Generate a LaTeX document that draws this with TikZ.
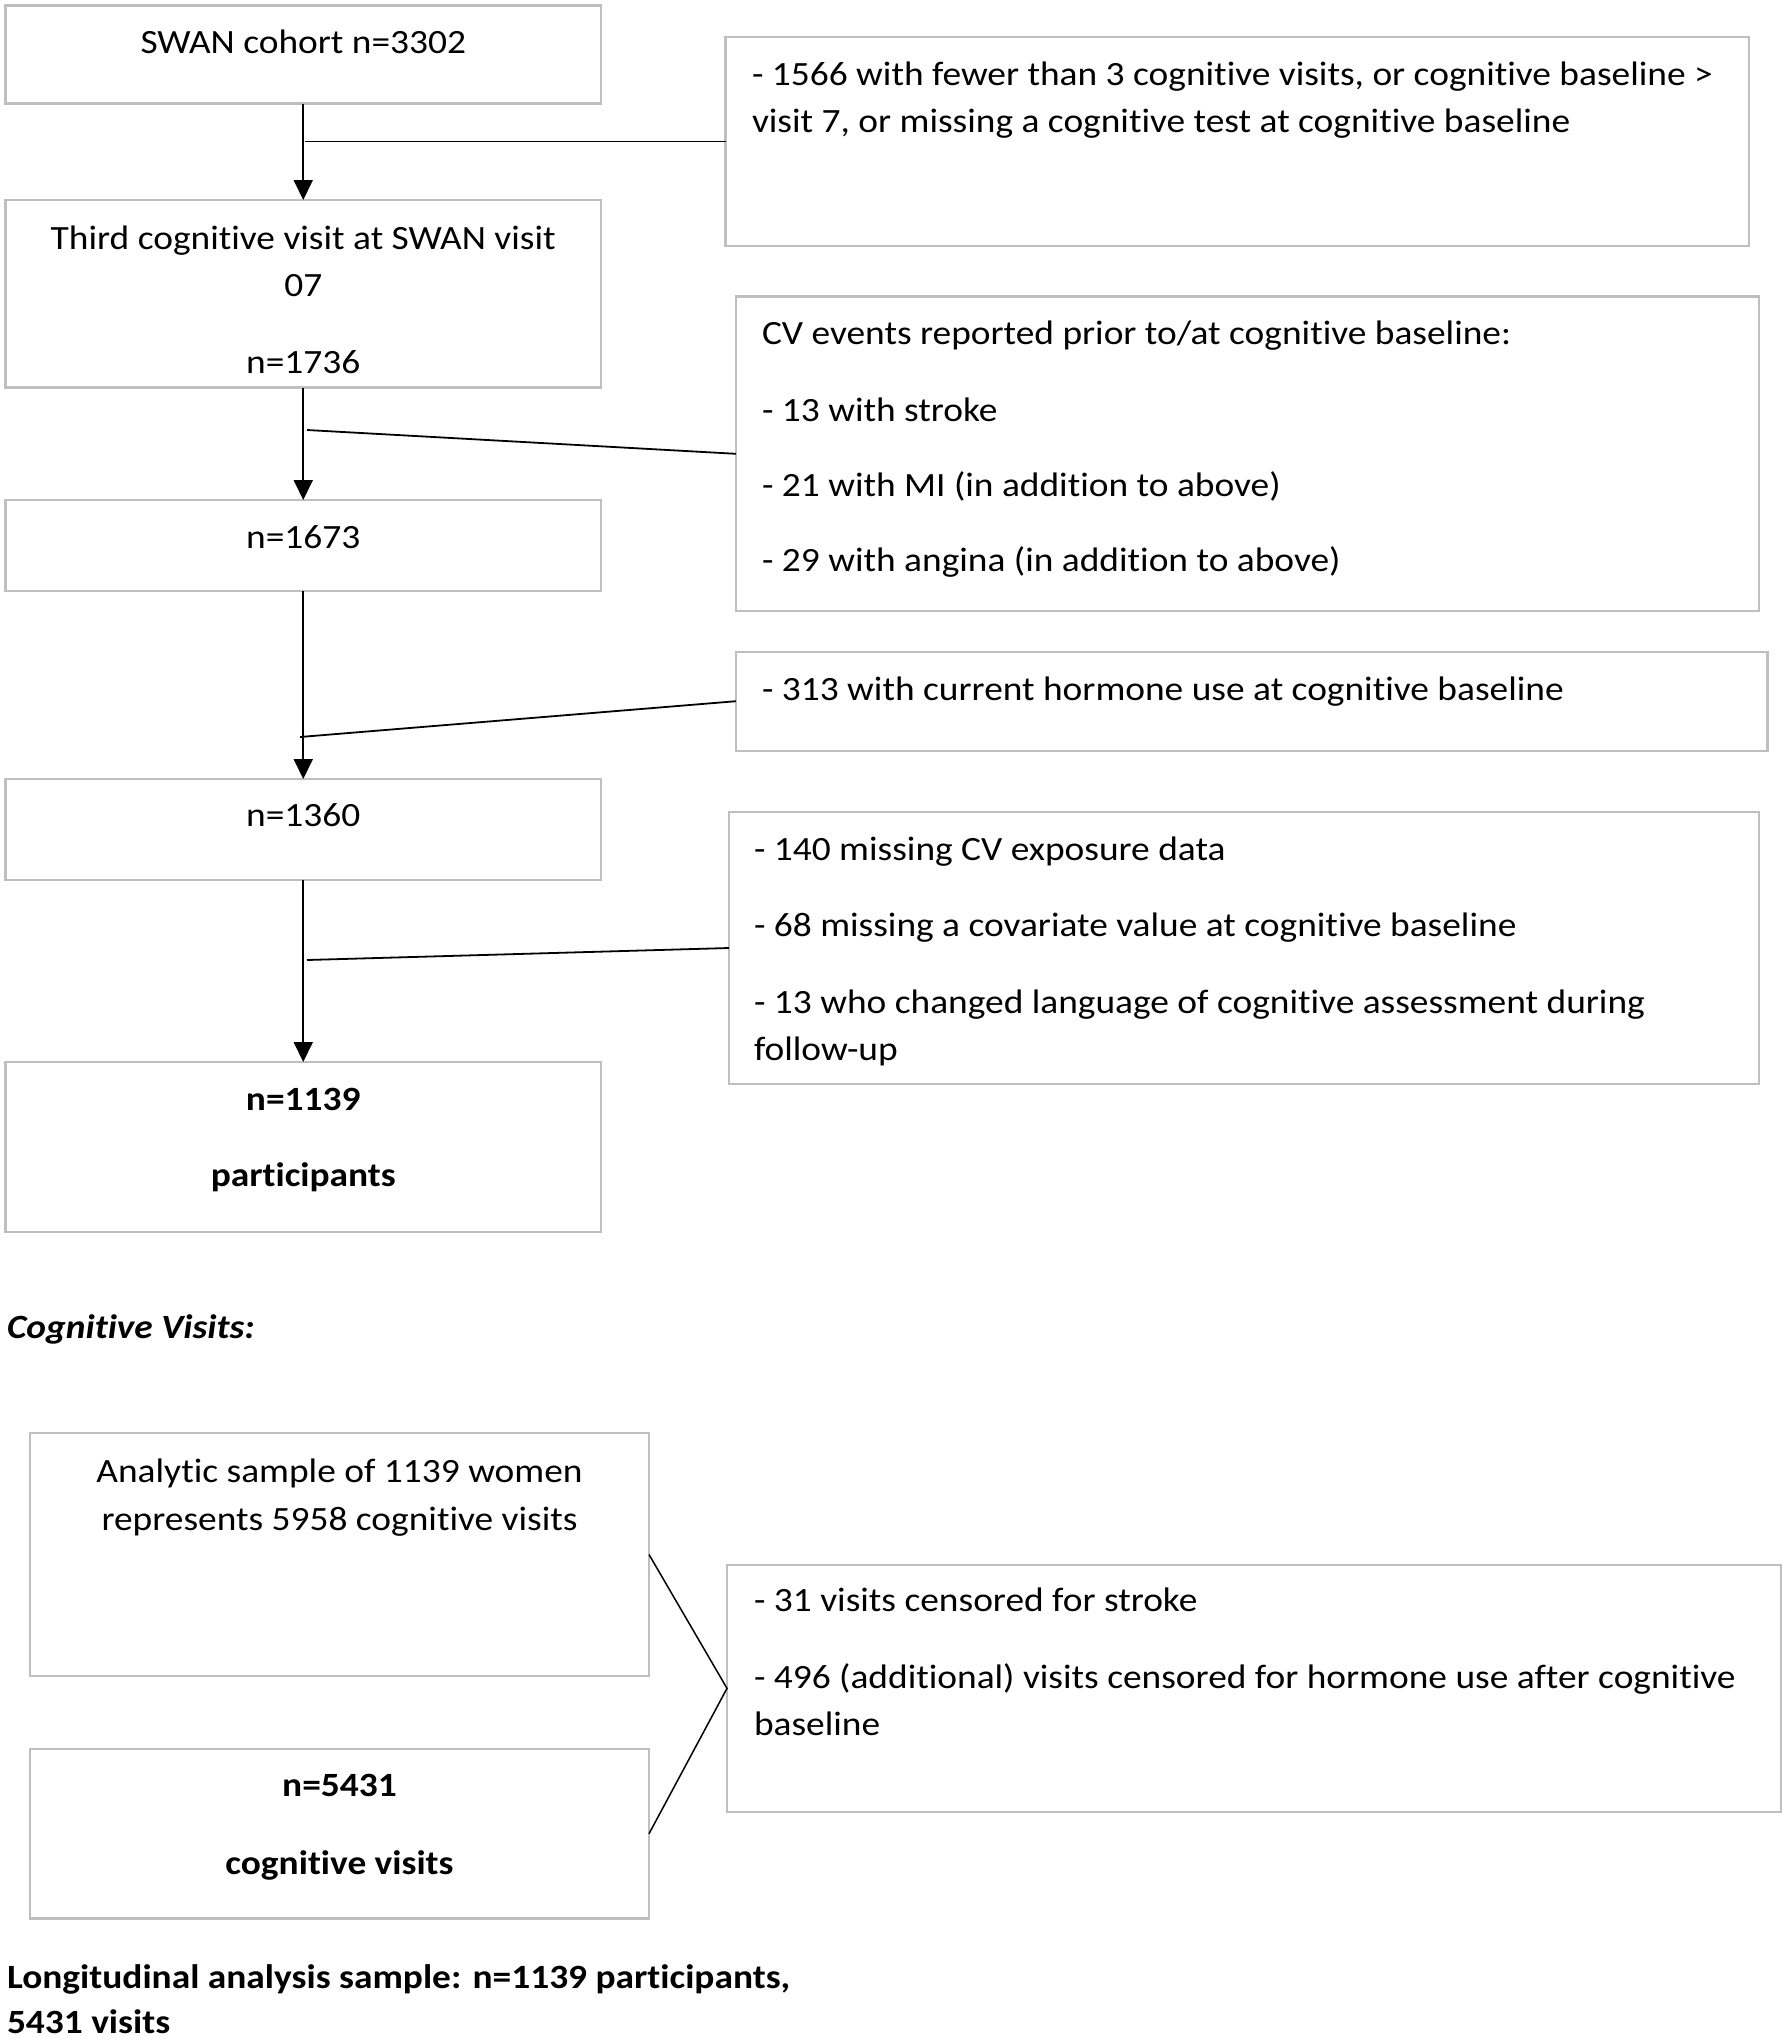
\documentclass[tikz,border=0pt]{standalone}
\usepackage{fontspec}
\setmainfont{Carlito}[Ligatures=NoCommon,FakeStretch=1.1]
\usetikzlibrary{arrows.meta}
\definecolor{boxgray}{HTML}{BFBFBF}
\begin{document}
\begin{tikzpicture}[x=1pt,y=-1pt,
  box/.style={draw=boxgray,line width=2.4pt,inner sep=0pt,outer sep=0pt},
  txt/.style={inner sep=0pt,outer sep=0pt,font=\fontsize{34}{47.5}\selectfont},
  lt/.style={txt,anchor=base west},
  ct/.style={txt,anchor=base},
  conn/.style={draw=black,line width=1.8pt},
  arr/.style={conn,-{Triangle[length=20pt,width=19pt]}}]
\useasboundingbox[fill=white] (0,0) rectangle (1787,2040);
% left column boxes
\node[box,minimum width=595.5pt,minimum height=98.1pt] (b1) at (303.25,54.55) {};
\node[box,minimum width=595.5pt,minimum height=187.5pt] (b2) at (303.25,293.75) {};
\node[box,minimum width=595.5pt,minimum height=91pt] (b3) at (303.25,545.5) {};
\node[box,minimum width=595.5pt,minimum height=101pt] (b4) at (303.25,829.5) {};
\node[box,minimum width=595.5pt,minimum height=170pt] (b5) at (303.25,1147) {};
% exclusion boxes
\node[box,minimum width=1023.4pt,minimum height=209pt] (ex1) at (1237.3,141.5) {};
\node[box,minimum width=1023pt,minimum height=314.4pt] (ex2) at (1247.5,453.8) {};
\node[box,minimum width=1031.6pt,minimum height=99pt] (ex3) at (1251.8,701.2) {};
\node[box,minimum width=1030pt,minimum height=272pt] (ex4) at (1244,948) {};
% cognitive visits
\node[box,minimum width=619pt,minimum height=243pt] (b6) at (339.5,1554.5) {};
\node[box,minimum width=619pt,minimum height=169.5pt] (b7) at (339.5,1833.75) {};
\node[box,minimum width=1054pt,minimum height=246.7pt] (ex5) at (1254,1688.35) {};
% texts
\node[ct] (t1) at (303.25,53) {SWAN cohort n=3302};
\node[ct] (t2a) at (303.25,249) {Third cognitive visit at SWAN visit};
\node[ct] (t2b) at (303.25,296.6) {07};
\node[ct] (t2c) at (303.25,373.7) {n=1736};
\node[ct] (t3) at (303.25,548) {n=1673};
\node[ct] (t4) at (303.25,826) {n=1360};
\node[ct,font=\fontsize{34}{47.5}\selectfont\bfseries] (t5a) at (303.25,1110) {n=1139};
\node[ct,font=\fontsize{34}{47.5}\selectfont\bfseries] (t5b) at (303.25,1186.6) {participants};
\node[lt] (e1a) at (752,85) {- 1566 with fewer than 3 cognitive visits, or cognitive baseline >};
\node[lt] (e1b) at (752,132.5) {visit 7, or missing a cognitive test at cognitive baseline};
\node[lt] (e2a) at (762,344) {CV events reported prior to/at cognitive baseline:};
\node[lt] (e2b) at (762,421) {- 13 with stroke};
\node[lt] (e2c) at (762,496) {- 21 with MI (in addition to above)};
\node[lt] (e2d) at (762,571) {- 29 with angina (in addition to above)};
\node[lt] (e3) at (762,700) {- 313 with current hormone use at cognitive baseline};
\node[lt] (e4a) at (754,860) {- 140 missing CV exposure data};
\node[lt] (e4b) at (754,936.7) {- 68 missing a covariate value at cognitive baseline};
\node[lt] (e4c) at (754,1013) {- 13 who changed language of cognitive assessment during};
\node[lt] (e4d) at (754,1060) {follow-up};
\node[lt,font=\fontsize{34}{47.5}\selectfont\bfseries\itshape] (cv) at (7,1338) {Cognitive Visits:};
\node[ct] (t6a) at (339.5,1482) {Analytic sample of 1139 women};
\node[ct] (t6b) at (339.5,1530) {represents 5958 cognitive visits};
\node[ct,font=\fontsize{34}{47.5}\selectfont\bfseries] (t7a) at (339.5,1796.6) {n=5431};
\node[ct,font=\fontsize{34}{47.5}\selectfont\bfseries] (t7b) at (339.5,1874.7) {cognitive visits};
\node[lt] (e5a) at (754,1611.7) {- 31 visits censored for stroke};
\node[lt] (e5b) at (754,1688) {- 496 (additional) visits censored for hormone use after cognitive};
\node[lt] (e5c) at (754,1735) {baseline};
\node[lt,font=\fontsize{34}{47.5}\selectfont\bfseries] (fa) at (7,1988) {Longitudinal analysis sample: n=1139 participants,};
\node[lt,font=\fontsize{34}{47.5}\selectfont\bfseries] (fb) at (7,2033) {5431 visits};
% connectors
\draw[arr] (b1.south) -- (b2.north);
\draw[arr] (b2.south) -- (b3.north);
\draw[arr] (b3.south) -- (b4.north);
\draw[arr] (b4.south) -- (b5.north);
\coordinate (j1) at (305,141.5);
\coordinate (j2) at (307,430);
\coordinate (j3) at (300,737);
\coordinate (j4) at (307,960);
\draw[conn] (j1) -- (ex1.west);
\draw[conn] (j2) -- (ex2.west);
\draw[conn] (j3) -- (ex3.west);
\draw[conn] (j4) -- (ex4.west);
\draw[conn,line width=1.5pt] (b6.east) -- (ex5.west) -- (b7.east);
\end{tikzpicture}
\end{document}
